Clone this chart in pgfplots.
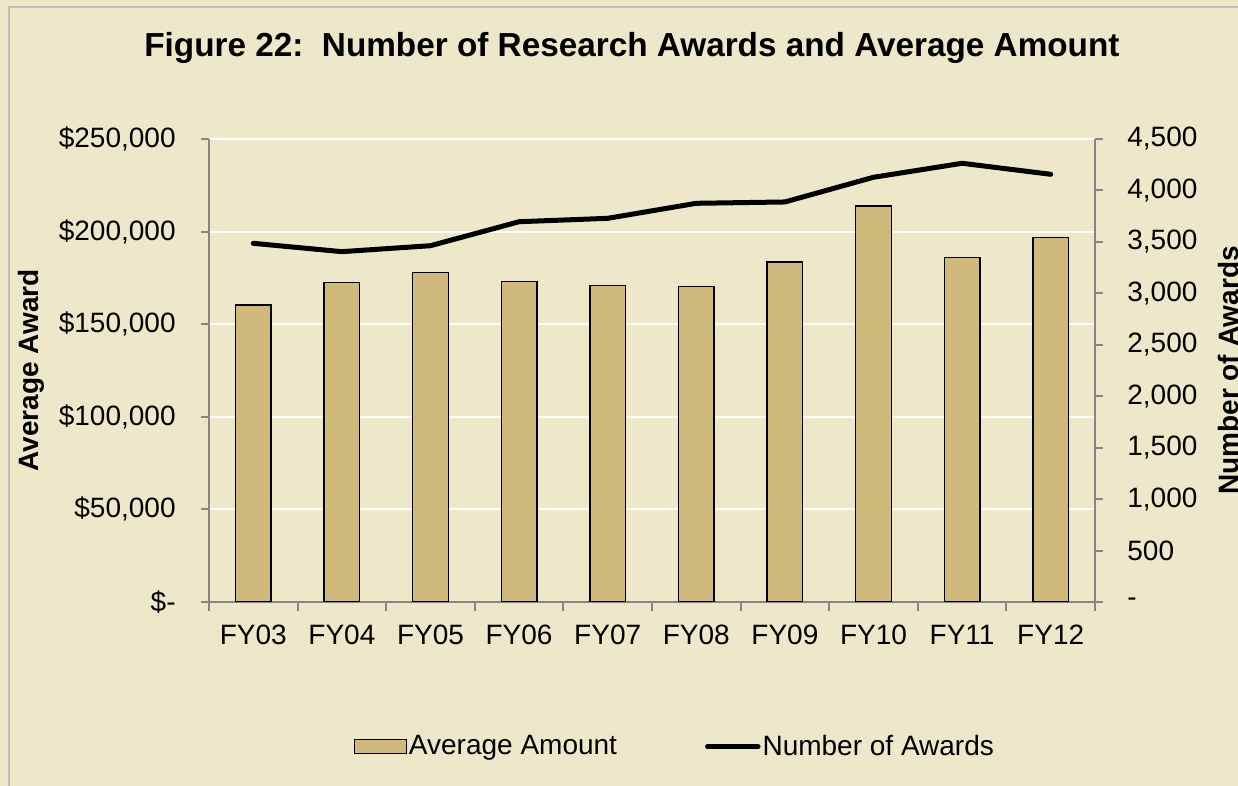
\documentclass[border=0pt]{standalone}
\usepackage{pgfplots}
\pgfplotsset{compat=1.18}
\usepackage{fontspec}
\setmainfont{Liberation Sans}
\definecolor{bg}{RGB}{238,232,202}
\definecolor{barcol}{RGB}{207,186,124}
\definecolor{axgray}{RGB}{134,134,134}
\definecolor{bordergray}{RGB}{190,190,190}
\newcommand{\tickfont}{\fontsize{14}{16}\selectfont}
\pgfplotsset{
  barleg/.style={legend image code/.code={\draw[##1] (0pt,-3.5pt) rectangle (26pt,3.5pt);}},
  lineleg/.style={legend image code/.code={\draw[##1] (1.25pt,0pt) -- (26.5pt,0pt);}},
}
\begin{document}
\begin{tikzpicture}
\path[use as bounding box, fill=bg] (-104.5pt,-92pt) rectangle (514.5pt,301pt);
\draw[bordergray, line width=1pt] (-100.15pt,-150pt) rectangle (600pt,297.65pt);
\begin{axis}[
  at={(0pt,0pt)}, anchor=south west,
  scale only axis, width=443pt, height=231.5pt,
  xmin=-0.5, xmax=9.5, ymin=0, ymax=250000,
  scaled y ticks=false,
  axis x line*=bottom, axis y line*=left,
  axis line style={axgray, line width=1pt},
  xtick={0,1,...,9},
  xticklabels={FY03,FY04,FY05,FY06,FY07,FY08,FY09,FY10,FY11,FY12},
  minor xtick={-0.5,0.5,...,9.5},
  major x tick style={draw=none},
  minor x tick style={axgray, line width=1pt},
  y tick style={axgray, line width=1pt},
  tick align=outside,
  major tick length=4pt, minor tick length=4.5pt,
  ytick={0,50000,100000,150000,200000,250000},
  yticklabels={{\$-\hspace{7.5pt}},{\$50,000},{\$100,000},{\$150,000},{\$200,000},{\$250,000}},
  ymajorgrids, major grid style={white, line width=1pt},
  tick label style={font=\tickfont},
  yticklabel style={anchor=east, inner sep=0pt, xshift=-12.5pt},
  xticklabel style={anchor=north, inner sep=0pt, yshift=-7.5pt},
  ylabel={Average Award},
  ylabel style={font=\bfseries\tickfont, at={(axis description cs:-0.2156,0.5)}, anchor=north, inner sep=0pt},
  title={Figure 22:\ \ Number of Research Awards and Average Amount},
  every axis title shift=0pt,
  title style={at={(axis description cs:0.4774,1.1771)}, anchor=base, inner sep=0pt, font=\bfseries\fontsize{16.65}{20}\selectfont},
  ybar, bar width=17.85pt,
]
\addplot[fill=barcol, draw=black, line width=0.7pt] coordinates {
(0,160400) (1,172400) (2,177800) (3,172950) (4,170800)
(5,170250) (6,183600) (7,213800) (8,185900) (9,196700)};
\end{axis}
\begin{axis}[
  at={(0pt,0pt)}, anchor=south west,
  scale only axis, width=443pt, height=231.5pt,
  xmin=-0.5, xmax=9.5, ymin=0, ymax=4500,
  axis x line=none, axis y line*=right,
  axis line style={axgray, line width=1pt},
  y tick style={axgray, line width=1pt},
  tick align=outside, major tick length=4pt,
  ytick={0,500,...,4500},
  yticklabels={{-},{500},{1,000},{1,500},{2,000},{2,500},{3,000},{3,500},{4,000},{4,500}},
  tick label style={font=\tickfont},
  yticklabel style={anchor=west, inner sep=0pt, xshift=12pt},
  ylabel={Number of Awards},
  ylabel style={font=\bfseries\tickfont, at={(axis description cs:1.1388,0.5)}, anchor=north, inner sep=0pt},
  legend columns=2,
  legend style={at={(axis description cs:0.1632,-0.3125)}, anchor=west, draw=none, fill=none,
    inner sep=0pt, outer sep=0pt, font=\tickfont,
    nodes={inner sep=1pt},
    /tikz/every even column/.append style={column sep=43pt}},
  legend cell align=left,
]
\addlegendimage{fill=barcol, draw=black, line width=0.7pt, barleg}
\addlegendentry{Average Amount}
\addplot[black, line width=2.5pt, line cap=round, line join=round, lineleg] coordinates {
(0,3486) (1,3405) (2,3463) (3,3696) (4,3729)
(5,3875) (6,3888) (7,4128) (8,4264) (9,4157)};
\addlegendentry{Number of Awards}
\end{axis}
\end{tikzpicture}
\end{document}
